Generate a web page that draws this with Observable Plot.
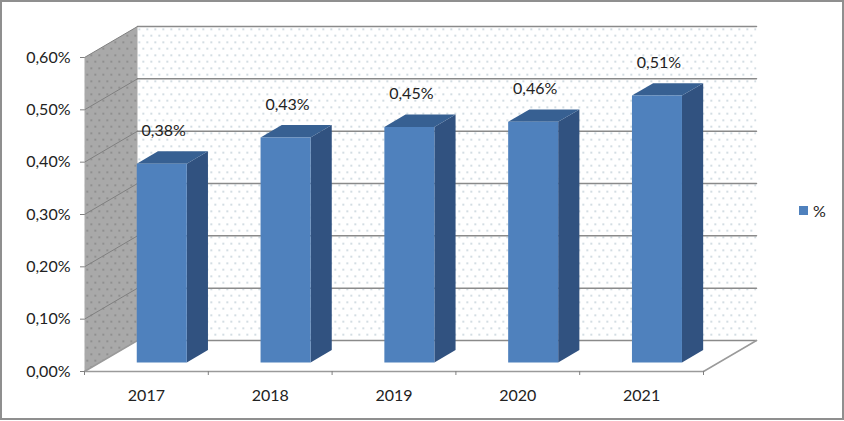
<!DOCTYPE html>
<html><head><meta charset="utf-8">
<script src="https://cdn.jsdelivr.net/npm/d3@7"></script>
<script src="https://cdn.jsdelivr.net/npm/@observablehq/plot@0.6"></script>
<style>
html,body{margin:0;padding:0;background:#fff}
#wrap{position:relative;width:844px;height:421px;overflow:hidden}
#border{position:absolute;left:0;top:0;width:844px;height:420px;box-sizing:border-box;border:2px solid #8f8f8f;pointer-events:none}
#legend{position:absolute;left:799px;top:202px;font:16px Lato,sans-serif;color:#222;display:flex;align-items:center;gap:5px;height:16px}
#legend i{display:block;width:9px;height:9px;background:#4f81bd}
svg{display:block}
</style></head><body>
<div id="wrap"><div id="border"></div><div id="legend"><i></i><span>%</span></div></div>
<script>
const years = ["2017","2018","2019","2020","2021"];
const values = [0.38,0.43,0.45,0.46,0.51];
const labels = ["0,38%","0,43%","0,45%","0,46%","0,51%"];
const yTicks = [0,0.1,0.2,0.3,0.4,0.5,0.6];
const yTickLabels = ["0,00%","0,10%","0,20%","0,30%","0,40%","0,50%","0,60%"];

// oblique projection: depth 0 = front plane, depth 1 = back wall
const DX = 0.428, DY = 0.0592;
const P = (c, v, d = 0) => ({x: c + d * DX, y: v + d * DY});
const n = years.length, yMax = 0.6;
const barW = 0.404, d0 = 0.29, d1 = 0.69;

const sideWall = [P(0,0,0),P(0,0,1),P(0,yMax,1),P(0,yMax,0)];
const backWall = [P(0,0,1),P(n,0,1),P(n,yMax,1),P(0,yMax,1)];
const seg = (a,b,id)=>[{...a,id},{...b,id}];
const gridBack = yTicks.flatMap((v,i)=>seg(P(0,v,1),P(n,v,1),i));
const gridSide = yTicks.slice(1).flatMap((v,i)=>seg(P(0,v,0),P(0,v,1),i));
const floorEdges = [...seg(P(0,0,0),P(n,0,0),"f"),...seg(P(n,0,0),P(n,0,1),"r"),...seg(P(0,0,0),P(0,0,1),"l")];
const face = (fn)=>values.flatMap((v,i)=>{
  const a=i+0.5-barW/2,b=i+0.5+barW/2;
  return fn(a,b,v).map(p=>({...p,id:i}));
});
const fronts = face((a,b,v)=>[P(a,0,d0),P(b,0,d0),P(b,v,d0),P(a,v,d0)]);
const sides  = face((a,b,v)=>[P(b,0,d0),P(b,0,d1),P(b,v,d1),P(b,v,d0)]);
const tops   = face((a,b,v)=>[P(a,v,d0),P(b,v,d0),P(b,v,d1),P(a,v,d1)]);
const xTicks = d3.range(n+1);

const chart = Plot.plot({
  width:844,height:421,
  marginLeft:84,marginRight:141,marginTop:57,marginBottom:50,
  style:{fontFamily:"Lato, sans-serif",background:"transparent"},
  x:{domain:[0,n],range:[84,703],axis:null},
  y:{domain:[0,yMax],range:[371,57],axis:null},
  marks:[
    Plot.line(backWall,{x:"x",y:"y",fill:"url(#dotsBack)",stroke:"none"}),
    Plot.line(sideWall,{x:"x",y:"y",fill:"url(#dotsSide)",stroke:"none"}),
    Plot.line(gridBack,{x:"x",y:"y",z:"id",stroke:"#8a8a8a",strokeWidth:1.5}),
    Plot.line(gridSide,{x:"x",y:"y",z:"id",stroke:"#808080",strokeWidth:1}),
    Plot.line(floorEdges,{x:"x",y:"y",z:"id",stroke:"#9a9a9a",strokeWidth:1.5}),
    Plot.line(sides,{x:"x",y:"y",z:"id",fill:"#315280",stroke:"none"}),
    Plot.line(tops,{x:"x",y:"y",z:"id",fill:"#376092",stroke:"none"}),
    Plot.line(fronts,{x:"x",y:"y",z:"id",fill:"#4f81bd",stroke:"none"}),
    Plot.axisY({ticks:yTicks,tickFormat:(d,i)=>yTickLabels[i],tickSize:4,tickPadding:10,stroke:"#808080",fontSize:16,color:"#222",label:null,marginLeft:84,textStroke:"none"}),
    Plot.axisX({ticks:xTicks,tickFormat:()=>"",tickSize:4,stroke:"#808080",label:null,anchor:"bottom",marginBottom:50}),
    Plot.text(years,{x:(d,i)=>i+0.5,y:()=>0,text:d=>d,dy:24,fontSize:16,fill:"#222"}),
    Plot.text(labels,{x:(d,i)=>i+0.5+0.14,y:(d,i)=>values[i],text:d=>d,dy:-42,fontSize:16,fill:"#222"})
  ]
});
const defs = d3.select(chart).insert("defs",":first-child");
function pat(id,bg,dot,op){
  const p = defs.append("pattern").attr("id",id).attr("patternUnits","userSpaceOnUse").attr("width",16).attr("height",13);
  p.append("rect").attr("width",16).attr("height",13).attr("fill",bg);
  [[2,2],[10,2],[6,8.5],[14,8.5]].forEach(([x,y])=>p.append("rect").attr("x",x).attr("y",y).attr("width",1.5).attr("height",1.5).attr("fill",dot).attr("opacity",op));
}
pat("dotsBack","#ffffff","#9db3bf",0.8);
pat("dotsSide","#a9a9a9","#6f6f6f",0.8);
document.getElementById("wrap").prepend(chart);
</script>
</body></html>
